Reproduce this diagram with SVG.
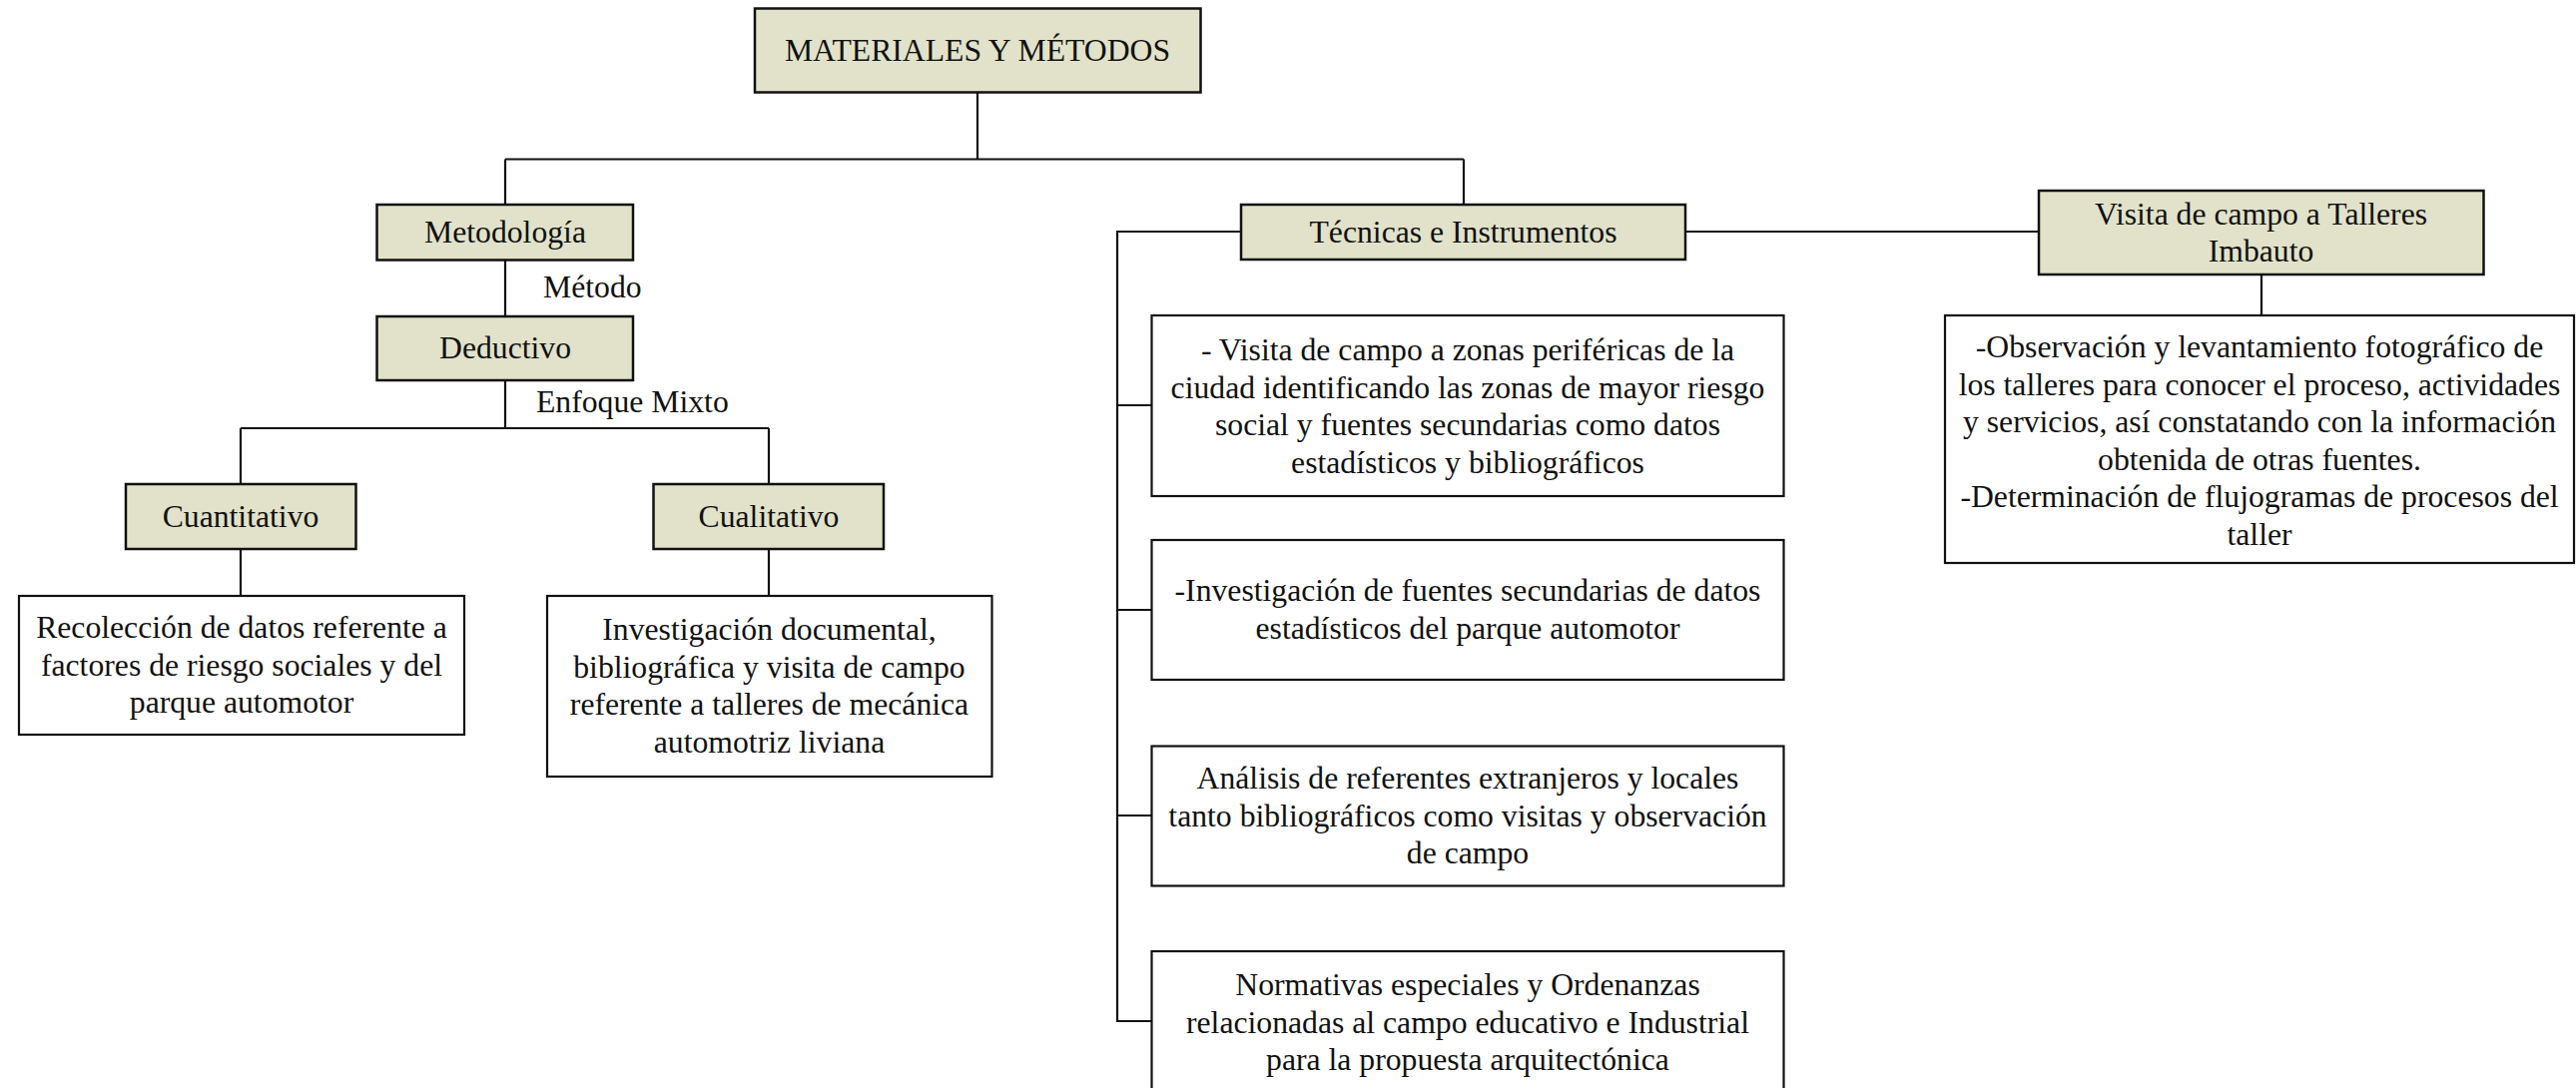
<svg xmlns="http://www.w3.org/2000/svg" width="2580" height="1090" viewBox="0 0 2580 1090">
<style>
  text { font-family: "Liberation Serif", "Times New Roman", serif; font-size: 31.7px; fill: #111; }
  .c { text-anchor: middle; }
  .hdr { fill: #E1E2C9; stroke: #111; stroke-width: 2.5; }
  .box { fill: #FFFFFF; stroke: #111; stroke-width: 2.2; }
  .ln { fill: none; stroke: #111; stroke-width: 2.2; }
</style>
<rect x="0" y="0" width="2580" height="1090" fill="#FFFFFF"/>
<g id="connectors">
  <path class="ln" d="M979,92 V159.5 M506,159.5 H1466 M506,159.5 V205 M1466,159.5 V205"/>
  <path class="ln" d="M506,260 V317"/>
  <path class="ln" d="M506,381 V429 M241,429 H770 M241,429 V485 M770,429 V485"/>
  <path class="ln" d="M241,550 V597 M770,550 V597"/>
  <path class="ln" d="M1243,232 H1119 V1023 H1153 M1119,406 H1153 M1119,611 H1153 M1119,817 H1153"/>
  <path class="ln" d="M1688,232 H2042"/>
  <path class="ln" d="M2265,275 V316"/>
  <text x="544" y="298">Método</text>
  <text x="537" y="413">Enfoque Mixto</text>
</g>
<g id="materiales">
  <rect class="hdr" x="756" y="8.5" width="446.5" height="84"/>
  <text class="c" x="979" y="61">MATERIALES Y MÉTODOS</text>
</g>
<g id="metodologia">
  <rect class="hdr" x="377.5" y="205" width="256.5" height="55.5"/>
  <text class="c" x="506" y="243">Metodología</text>
</g>
<g id="deductivo">
  <rect class="hdr" x="377.5" y="317" width="256.5" height="64"/>
  <text class="c" x="506" y="359">Deductivo</text>
</g>
<g id="cuantitativo">
  <rect class="hdr" x="126" y="485" width="230.5" height="65"/>
  <text class="c" x="241" y="528">Cuantitativo</text>
</g>
<g id="cualitativo">
  <rect class="hdr" x="654.5" y="485" width="230.5" height="65"/>
  <text class="c" x="770" y="528">Cualitativo</text>
</g>
<g id="recoleccion">
  <rect class="box" x="19" y="597" width="446" height="139"/>
  <text class="c" x="242" y="639">Recolección de datos referente a</text>
  <text class="c" x="242" y="676.5">factores de riesgo sociales y del</text>
  <text class="c" x="242" y="714">parque automotor</text>
</g>
<g id="investigacion">
  <rect class="box" x="548" y="597" width="445.5" height="181"/>
  <text class="c" x="770.5" y="641">Investigación documental,</text>
  <text class="c" x="770.5" y="678.5">bibliográfica y visita de campo</text>
  <text class="c" x="770.5" y="716">referente a talleres de mecánica</text>
  <text class="c" x="770.5" y="753.5">automotriz liviana</text>
</g>
<g id="tecnicas">
  <rect class="hdr" x="1243" y="205" width="445" height="55"/>
  <text class="c" x="1465.5" y="243">Técnicas e Instrumentos</text>
</g>
<g id="visita-talleres">
  <rect class="hdr" x="2042" y="191" width="445.5" height="84"/>
  <text class="c" x="2264.5" y="225">Visita de campo a Talleres</text>
  <text class="c" x="2264.5" y="262">Imbauto</text>
</g>
<g id="observacion">
  <rect class="box" x="1948" y="316" width="630" height="248"/>
  <text class="c" x="2263" y="358">-Observación y levantamiento fotográfico de</text>
  <text class="c" x="2263" y="395.5">los talleres para conocer el proceso, actividades</text>
  <text class="c" x="2263" y="433">y servicios, así constatando con la información</text>
  <text class="c" x="2263" y="470.5">obtenida de otras fuentes.</text>
  <text class="c" x="2263" y="508">-Determinación de flujogramas de procesos del</text>
  <text class="c" x="2263" y="545.5">taller</text>
</g>
<g id="tecnica-1">
  <rect class="box" x="1153.5" y="316" width="633" height="181"/>
  <text class="c" x="1470" y="361">- Visita de campo a zonas periféricas de la</text>
  <text class="c" x="1470" y="398.5">ciudad identificando las zonas de mayor riesgo</text>
  <text class="c" x="1470" y="436">social y fuentes secundarias como datos</text>
  <text class="c" x="1470" y="473.5">estadísticos y bibliográficos</text>
</g>
<g id="tecnica-2">
  <rect class="box" x="1153.5" y="541" width="633" height="140"/>
  <text class="c" x="1470" y="602">-Investigación de fuentes secundarias de datos</text>
  <text class="c" x="1470" y="639.5">estadísticos del parque automotor</text>
</g>
<g id="tecnica-3">
  <rect class="box" x="1153.5" y="747.5" width="633" height="140"/>
  <text class="c" x="1470" y="790">Análisis de referentes extranjeros y locales</text>
  <text class="c" x="1470" y="827.5">tanto bibliográficos como visitas y observación</text>
  <text class="c" x="1470" y="865">de campo</text>
</g>
<g id="tecnica-4">
  <rect class="box" x="1153.5" y="953" width="633" height="145"/>
  <text class="c" x="1470" y="997">Normativas especiales y Ordenanzas</text>
  <text class="c" x="1470" y="1034.5">relacionadas al campo educativo e Industrial</text>
  <text class="c" x="1470" y="1072">para la propuesta arquitectónica</text>
</g>
</svg>
